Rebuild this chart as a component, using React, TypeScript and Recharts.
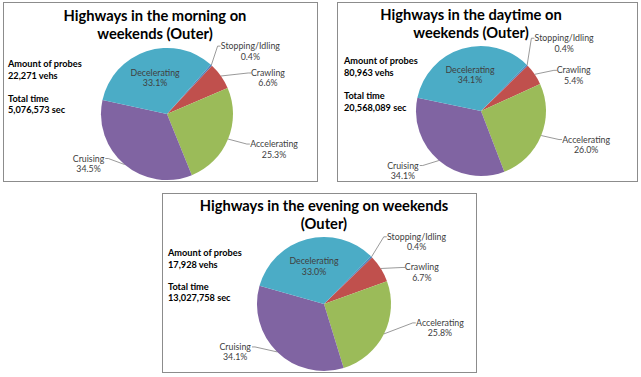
import React from "react";
import { PieChart, Pie, Cell } from "recharts";

// slice order follows the source sheet: Stopping first, then clockwise
const categories = ["Stopping/Idling", "Crawling", "Accelerating", "Cruising", "Decelerating"];
const morningShares = [0.4, 6.6, 25.3, 34.5, 33.1];
const daytimeShares = [0.4, 5.4, 26.0, 34.1, 34.1];
const eveningShares = [0.4, 6.7, 25.8, 34.1, 33.0];
const sliceColors = ["#4F81BD", "#C0504D", "#9BBB59", "#8064A2", "#4BACC6"];

const titleLines = [
  ["Highways in the morning on", "weekends (Outer)"],
  ["Highways in the daytime on", "weekends (Outer)"],
  ["Highways in the evening on weekends", "(Outer)"],
];
const probeCounts = ["22,271", "80,963", "17,928"];
const totalTimes = ["5,076,573", "20,568,089", "13,027,758"];

const RAD = Math.PI / 180;
const LABEL_FONT = "Lato, 'Open Sans', sans-serif";

type Offset = [number, number] | null;

const panels = [
  {
    shares: morningShares,
    box: { left: 3, top: 2, width: 315, height: 180 },
    cx: 164,
    cy: 112,
    r: 66,
    firstAngle: 41.5,
    titleX: 152,
    titleY: 19,
    sideX: 5,
    sideY: [65, 77, 100, 111],
    offsets: [[39, -19], [47, -3], [46, 5], [-36, -6], null] as Offset[],
  },
  {
    shares: daytimeShares,
    box: { left: 337, top: 2, width: 301, height: 180 },
    cx: 144,
    cy: 109,
    r: 65,
    firstAngle: 44.5,
    titleX: 134,
    titleY: 18,
    sideX: 7,
    sideY: [62, 74, 97, 109],
    offsets: [[37, -27], [39, -4], [45, 4], [-36, 5], null] as Offset[],
  },
  {
    shares: eveningShares,
    box: { left: 162, top: 193, width: 315, height: 180 },
    cx: 162,
    cy: 111,
    r: 67,
    firstAngle: 44.5,
    titleX: 162,
    titleY: 18,
    sideX: 6,
    sideY: [63, 75, 97, 108],
    offsets: [[45, -20], [41, -1], [56, -11], [-42, -5], null] as Offset[],
  },
];

function makeLabel(offsets: Offset[]) {
  return (props: any) => {
    const { cx, cy, midAngle, outerRadius, index, name, value } = props;
    const cos = Math.cos(-midAngle * RAD);
    const sin = Math.sin(-midAngle * RAD);
    const pct = `${Number(value).toFixed(1)}%`;
    const off = offsets[index];
    const textProps = {
      textAnchor: "middle" as const,
      fontFamily: LABEL_FONT,
      fontSize: 8.8,
      fill: "#404040",
    };
    if (!off) {
      const px = cx + outerRadius * 0.58 * cos;
      const py = cy + outerRadius * 0.58 * sin;
      return (
        <text x={px} y={py - 2} {...textProps}>
          <tspan x={px}>{name}</tspan>
          <tspan x={px} dy={10.5}>{pct}</tspan>
        </text>
      );
    }
    const ex = cx + outerRadius * cos;
    const ey = cy + outerRadius * sin;
    const lx = ex + off[0];
    const ly = ey + off[1];
    const side = off[0] > 0 ? 1 : -1;
    const halfW = name.length * 1.85;
    const endX = lx - side * (halfW + 2);
    return (
      <g>
        <polyline
          points={`${ex},${ey} ${endX - side * 3},${ly} ${endX},${ly}`}
          stroke="#808080"
          strokeWidth={0.8}
          fill="none"
        />
        <text x={lx} y={ly + 3} {...textProps}>
          <tspan x={lx}>{name}</tspan>
          <tspan x={lx} dy={10.5}>{pct}</tspan>
        </text>
      </g>
    );
  };
}

function Panel({ idx }: { idx: number }) {
  const p = panels[idx];
  const data = categories.map((name, i) => ({ name, value: p.shares[i] }));
  const start = 90 - p.firstAngle;
  return (
    <div
      style={{
        position: "absolute",
        ...p.box,
        boxSizing: "border-box",
        border: "1px solid #8c8c8c",
        background: "#fff",
      }}
    >
      <svg
        width={p.box.width}
        height={p.box.height}
        style={{ position: "absolute", left: -1, top: -1 }}
      >
        <text
          x={p.titleX}
          y={p.titleY}
          textAnchor="middle"
          fontFamily={LABEL_FONT}
          fontWeight="bold"
          fontSize={14.7}
          fill="#000"
        >
          <tspan x={p.titleX}>{titleLines[idx][0]}</tspan>
          <tspan x={p.titleX} dy={17.5}>
            {titleLines[idx][1]}
          </tspan>
        </text>
        {["Amount of probes", `${probeCounts[idx]} vehs`, "Total time", `${totalTimes[idx]} sec`].map(
          (line, i) => (
            <text
              key={i}
              x={p.sideX}
              y={p.sideY[i]}
              fontFamily={LABEL_FONT}
              fontWeight="bold"
              fontSize={9.2}
              fill="#000"
            >
              {line}
            </text>
          )
        )}
      </svg>
      <div style={{ position: "absolute", left: -1, top: -1 }}>
        <PieChart width={p.box.width} height={p.box.height} margin={{ top: 0, right: 0, bottom: 0, left: 0 }}>
          <Pie
            data={data}
            dataKey="value"
            nameKey="name"
            cx={p.cx}
            cy={p.cy}
            outerRadius={p.r}
            startAngle={start}
            endAngle={start - 360}
            stroke="none"
            label={makeLabel(p.offsets)}
            labelLine={false}
            isAnimationActive={false}
          >
            {data.map((d, i) => (
              <Cell key={d.name} fill={sliceColors[i]} />
            ))}
          </Pie>
        </PieChart>
      </div>
    </div>
  );
}

export default function App() {
  return (
    <div
      style={{
        position: "absolute",
        left: 0,
        top: 0,
        width: 641,
        height: 377,
        background: "#fff",
      }}
    >
      <Panel idx={0} />
      <Panel idx={1} />
      <Panel idx={2} />
    </div>
  );
}
